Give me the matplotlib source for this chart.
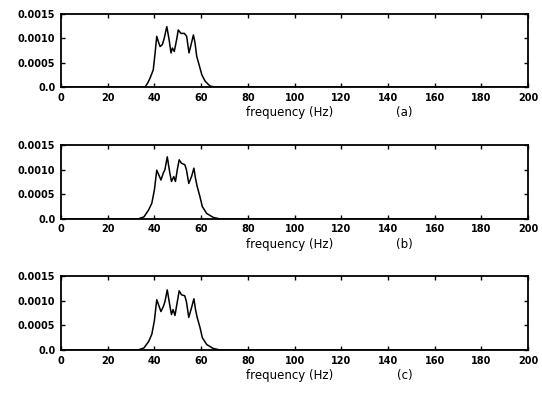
import matplotlib
matplotlib.use("Agg")
import matplotlib.pyplot as plt

freq_a = [0, 36, 37.1, 38.1, 39.5, 40.3, 41.0, 41.7, 42.4, 43.4, 44.2, 45.3, 46.3, 47.1, 47.7, 48.5, 49.5,
          50.2, 51.4, 52.8, 53.8, 54.8, 55.7, 56.7, 57.4, 58.1, 59.1, 60.3, 61.7, 63.8, 66, 200]
amp_a = [0, 0, 0.00008, 0.00018, 0.00035, 0.0007, 0.00104, 0.00093, 0.00083, 0.00087, 0.0010, 0.00124,
         0.00097, 0.0007, 0.0008, 0.00073, 0.00097, 0.00117, 0.0011, 0.0011, 0.00104, 0.0007, 0.00087,
         0.00107, 0.0009, 0.00063, 0.00046, 0.00025, 0.00012, 0.00002, 0, 0]

freq_b = [0, 33, 35.5, 37.5, 38.9, 40.0, 41.0, 41.9, 42.8, 43.8, 44.5, 45.5, 46.6, 47.3, 48.3, 49.0, 49.8,
          50.6, 51.6, 53.0, 53.7, 54.7, 55.9, 56.9, 57.6, 58.3, 59.5, 60.5, 62.4, 65.2, 68, 200]
amp_b = [0, 0, 0.00004, 0.00018, 0.00032, 0.00059, 0.00099, 0.00089, 0.00079, 0.00093, 0.0010, 0.00126,
         0.00093, 0.00076, 0.00086, 0.00076, 0.0010, 0.0012, 0.00113, 0.0011, 0.0010, 0.00072, 0.00086,
         0.00103, 0.00082, 0.00066, 0.00045, 0.00025, 0.00011, 0.00003, 0, 0]

freq_c = [0, 33, 35.5, 37.5, 38.9, 40.0, 41.0, 41.9, 42.8, 43.8, 44.5, 45.5, 46.6, 47.3, 48.0, 48.8, 49.8,
          50.6, 51.6, 53.0, 53.7, 54.7, 55.9, 56.9, 57.6, 58.3, 59.5, 60.5, 62.4, 65.2, 68, 200]
amp_c = [0, 0, 0.00004, 0.00017, 0.00032, 0.0006, 0.00102, 0.0009, 0.00078, 0.00088, 0.00098, 0.00122,
         0.0009, 0.00072, 0.00082, 0.0007, 0.00098, 0.0012, 0.00112, 0.0011, 0.00098, 0.00066, 0.00086,
         0.00104, 0.00082, 0.00066, 0.00046, 0.00025, 0.00011, 0.00003, 0, 0]

panel_labels = ["(a)", "(b)", "(c)"]
x_ticks = [0, 20, 40, 60, 80, 100, 120, 140, 160, 180, 200]
y_ticks = [0.0, 0.0005, 0.0010, 0.0015]
y_ticklabels = ["0.0", "0.0005", "0.0010", "0.0015"]
xlabel = "frequency (Hz)"

fig = plt.figure(figsize=(5.42, 3.93), dpi=100)
positions = [
    [0.1125, 0.7786, 0.862, 0.186],
    [0.1125, 0.4430, 0.862, 0.188],
    [0.1125, 0.1095, 0.862, 0.188],
]
series = [(freq_a, amp_a), (freq_b, amp_b), (freq_c, amp_c)]

for pos, (fx, ay), lab in zip(positions, series, panel_labels):
    ax = fig.add_axes(pos)
    ax.plot(fx, ay, color="black", lw=1.1)
    ax.set_xlim(0, 200)
    ax.set_ylim(0, 0.0015)
    ax.set_xticks(x_ticks)
    ax.set_xticklabels([str(t) for t in x_ticks], fontsize=7, fontweight="bold")
    ax.set_yticks(y_ticks)
    ax.set_yticklabels(y_ticklabels, fontsize=7, fontweight="bold")
    ax.tick_params(direction="in", top=True, right=True, length=3, width=1, pad=4)
    for s in ax.spines.values():
        s.set_linewidth(1.3)
    ax.text(0.49, -0.35, xlabel, transform=ax.transAxes, ha="center", va="center", fontsize=8.5)
    ax.text(0.735, -0.35, lab, transform=ax.transAxes, ha="center", va="center", fontsize=8.5)

fig.savefig("out.png", dpi=100)
